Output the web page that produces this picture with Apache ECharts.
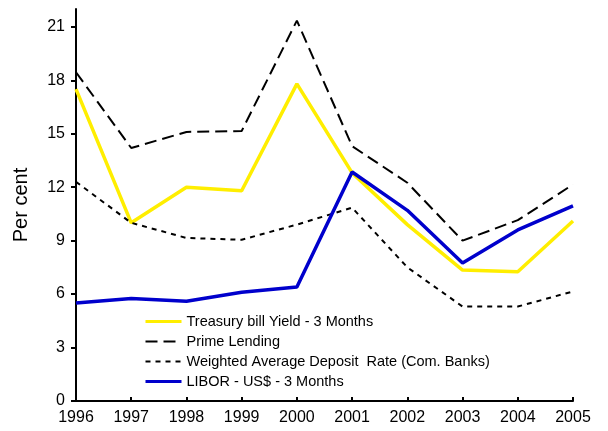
<!DOCTYPE html>
<html>
<head>
<meta charset="utf-8">
<script src="https://cdn.jsdelivr.net/npm/echarts@6/dist/echarts.min.js"></script>
<style>
html, body { margin: 0; padding: 0; background: #fff; }
#chart { width: 608px; height: 431px; }
</style>
</head>
<body>
<div id="chart"></div>
<script>
const years = ['1996', '1997', '1998', '1999', '2000', '2001', '2002', '2003', '2004', '2005']
const treasury = [17.5, 10.0, 12.0, 11.8, 17.8, 12.8, 9.9, 7.35, 7.25, 10.1]
const prime = [18.45, 14.2, 15.1, 15.15, 21.35, 14.3, 12.25, 9.0, 10.15, 12.15]
const deposit = [12.3, 10.0, 9.15, 9.05, 9.9, 10.85, 7.5, 5.3, 5.3, 6.15]
const libor = [5.5, 5.75, 5.6, 6.1, 6.4, 12.85, 10.7, 7.75, 9.6, 10.95]
const yTicks = [0, 3, 6, 9, 12, 15, 18, 21]

const charts = echarts.init(document.getElementById('chart'))
const font = 'Liberation Sans, Arial, sans-serif'

charts.setOption({
    animation: false,
    textStyle: { fontFamily: font },
    grid: { left: 76, right: 35, top: 9, bottom: 30 },
    legend: {
        orient: 'vertical',
        left: 139,
        top: 309,
        itemWidth: 36,
        itemHeight: 14,
        itemGap: 5,
        itemStyle: { opacity: 0 },
        textStyle: { fontSize: 14.5, color: '#000', fontFamily: font },
        data: [
            { name: 'Treasury bill Yield - 3 Months', lineStyle: { width: 3 } },
            { name: 'Prime Lending', lineStyle: { width: 2 } },
            { name: 'Weighted Average Deposit  Rate (Com. Banks)', lineStyle: { width: 2 } },
            { name: 'LIBOR - US$ - 3 Months', lineStyle: { width: 3 } }
        ]
    },
    xAxis: {
        type: 'category',
        data: years,
        boundaryGap: false,
        axisLine: { lineStyle: { color: '#000', width: 2 } },
        axisTick: { inside: true, length: 4, lineStyle: { color: '#000', width: 2 } },
        axisLabel: { fontSize: 16, color: '#000', margin: 9 }
    },
    yAxis: {
        type: 'value',
        min: 0,
        max: 22,
        interval: 3,
        name: 'Per cent',
        nameLocation: 'middle',
        nameGap: 45,
        nameTextStyle: { fontSize: 20, color: '#000' },
        splitLine: { show: false },
        axisLine: { show: true, lineStyle: { color: '#000', width: 2 } },
        axisTick: { show: true, length: 5, customValues: yTicks, lineStyle: { color: '#000', width: 2 } },
        axisLabel: { fontSize: 16, color: '#000', margin: 11, customValues: yTicks }
    },
    series: [
        {
            name: 'Treasury bill Yield - 3 Months',
            type: 'line',
            data: treasury,
            symbol: 'none',
            itemStyle: { color: '#ffee00' },
            lineStyle: { color: '#ffee00', width: 3.5 }
        },
        {
            name: 'Prime Lending',
            type: 'line',
            data: prime,
            symbol: 'none',
            itemStyle: { color: '#000' },
            lineStyle: { color: '#000', width: 2, type: [12, 6] }
        },
        {
            name: 'Weighted Average Deposit  Rate (Com. Banks)',
            type: 'line',
            data: deposit,
            symbol: 'none',
            itemStyle: { color: '#000' },
            lineStyle: { color: '#000', width: 2, type: [5, 5] }
        },
        {
            name: 'LIBOR - US$ - 3 Months',
            type: 'line',
            data: libor,
            symbol: 'none',
            itemStyle: { color: '#0000cc' },
            lineStyle: { color: '#0000cc', width: 3.5 }
        }
    ]
})
</script>
</body>
</html>
